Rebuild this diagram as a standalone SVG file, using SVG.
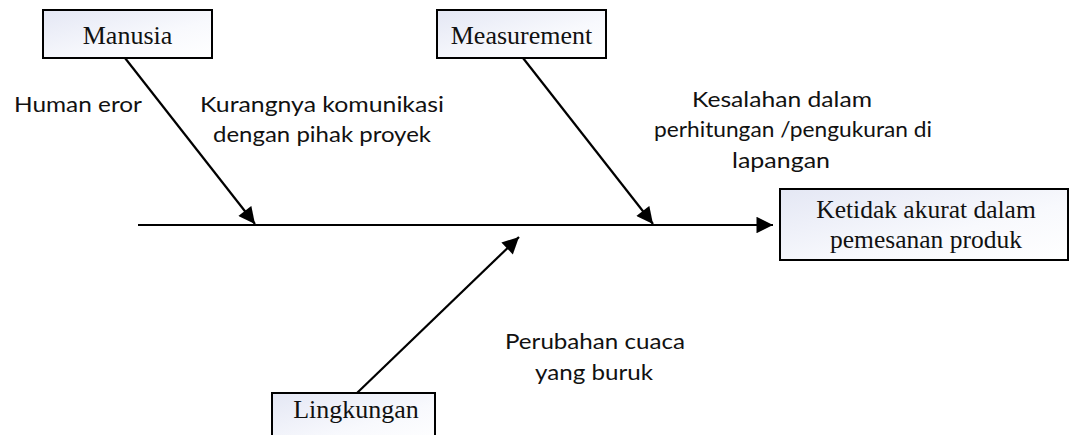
<svg xmlns="http://www.w3.org/2000/svg" width="1074" height="435" viewBox="0 0 1074 435">
  <defs>
    <linearGradient id="boxFill" x1="0" y1="0" x2="1" y2="1">
      <stop offset="0" stop-color="#e4e7f4"/>
      <stop offset="0.6" stop-color="#f8f9fd"/>
      <stop offset="1" stop-color="#ffffff"/>
    </linearGradient>
    <marker id="head" viewBox="0 0 10 10" refX="10" refY="5" markerWidth="8" markerHeight="7.5" orient="auto" markerUnits="strokeWidth">
      <path d="M0,0 L10,5 L0,10 z" fill="#000"/>
    </marker>
    <style>
      .box { fill: url(#boxFill); stroke: #000; stroke-width: 2; }
      .boxText { font-family: "Liberation Serif", "Times New Roman", serif; font-size: 26px; fill: #111; text-anchor: middle; }
      .effectText { font-size: 25.5px; }
      .note { font-family: Lato, "Liberation Sans", sans-serif; font-size: 22px; fill: #111; }
      .link { stroke: #000; stroke-width: 2.2; fill: none; marker-end: url(#head); }
    </style>
  </defs>

  <rect width="1074" height="435" fill="#fff"/>

  <!-- connectors: spine and cause branches -->
  <g id="connectors">
    <line class="link" x1="138" y1="225" x2="773" y2="225"/>
    <line class="link" x1="125" y1="58" x2="255" y2="224"/>
    <line class="link" x1="523" y1="58" x2="653" y2="224"/>
    <line class="link" x1="357" y1="393" x2="519" y2="237"/>
  </g>

  <!-- cause categories -->
  <g id="manusia">
    <rect class="box" x="43" y="10" width="169" height="48"/>
    <text class="boxText" x="127.5" y="44">Manusia</text>
  </g>
  <g id="measurement">
    <rect class="box" x="437" y="10" width="169" height="48"/>
    <text class="boxText" x="521.5" y="44">Measurement</text>
  </g>
  <g id="lingkungan">
    <rect class="box" x="272" y="393" width="163" height="52"/>
    <text class="boxText" x="356" y="418">Lingkungan</text>
  </g>

  <!-- effect -->
  <g id="ketidak-akurat">
    <rect class="box" x="780" y="189" width="288" height="71"/>
    <text class="boxText effectText" x="926" y="218">Ketidak akurat dalam</text>
    <text class="boxText effectText" x="926" y="248">pemesanan produk</text>
  </g>

  <!-- cause notes -->
  <g id="human-eror">
    <text class="note" x="14" y="112" textLength="128" lengthAdjust="spacingAndGlyphs">Human eror</text>
  </g>
  <g id="kurangnya-komunikasi">
    <text class="note" x="200" y="112" textLength="244" lengthAdjust="spacingAndGlyphs">Kurangnya komunikasi</text>
    <text class="note" x="213" y="142" textLength="218" lengthAdjust="spacingAndGlyphs">dengan pihak proyek</text>
  </g>
  <g id="kesalahan-perhitungan">
    <text class="note" x="692" y="107" textLength="180" lengthAdjust="spacingAndGlyphs">Kesalahan dalam</text>
    <text class="note" x="654" y="137" textLength="278" lengthAdjust="spacingAndGlyphs">perhitungan /pengukuran di</text>
    <text class="note" x="732" y="168" textLength="98" lengthAdjust="spacingAndGlyphs">lapangan</text>
  </g>
  <g id="perubahan-cuaca">
    <text class="note" x="505" y="349" textLength="180" lengthAdjust="spacingAndGlyphs">Perubahan cuaca</text>
    <text class="note" x="535" y="380" textLength="118" lengthAdjust="spacingAndGlyphs">yang buruk</text>
  </g>
</svg>
